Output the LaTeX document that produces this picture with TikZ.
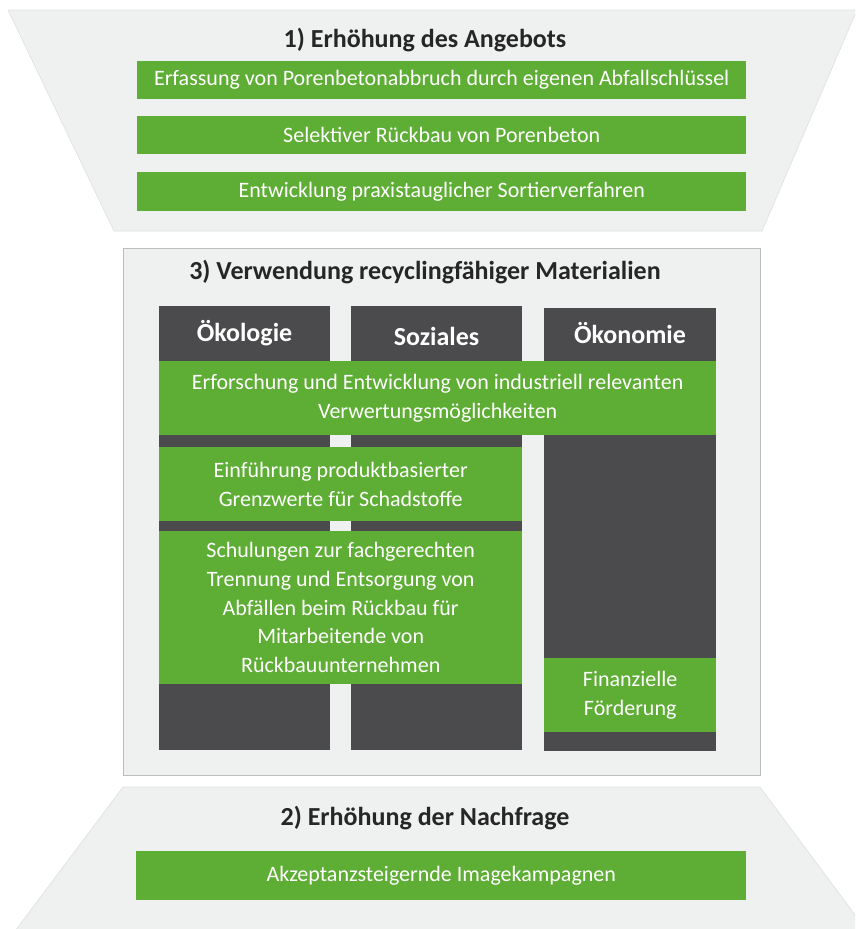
\documentclass[tikz,border=0pt]{standalone}
\usepackage{fontspec}
\setmainfont{Carlito}
\definecolor{mygreen}{HTML}{5EAD34}
\definecolor{mydark}{HTML}{4B4B4D}
\definecolor{mylight}{HTML}{EFF0F0}
\definecolor{myframe}{HTML}{BDBDBD}
\definecolor{mytitle}{HTML}{262626}
\tikzset{
  greenbox/.style={fill=mygreen, text=white, inner sep=0pt, align=center, anchor=north west,
    font=\fontsize{22}{28.7}\selectfont},
  darkcol/.style={fill=mydark, inner sep=0pt, anchor=north west},
  colhead/.style={text=white, font=\fontsize{26}{30}\selectfont\bfseries, inner sep=0pt},
  titletext/.style={text=mytitle, font=\fontsize{26}{30}\selectfont\bfseries, inner sep=0pt},
  trap/.style={fill=mylight, draw=mylight!85!gray, line width=0.6pt}
}
\begin{document}
\begin{tikzpicture}[x=1pt,y=-1pt]
\useasboundingbox (0,0) rectangle (855,929);
\clip (0,0) rectangle (855,929);
% top funnel
\path[trap] (8,10) -- (857,10) -- (762,231) -- (114,231) -- cycle;
\node[titletext] (t1) at (425,40) {1) Erhöhung des Angebots};
\node[greenbox, minimum width=609pt, minimum height=38pt] (a1) at (137,61) {Erfassung von Porenbetonabbruch durch eigenen Abfallschlüssel};
\node[greenbox, minimum width=609pt, minimum height=38pt] (a2) at (137,116) {Selektiver Rückbau von Porenbeton};
\node[greenbox, minimum width=609pt, minimum height=39pt] (a3) at (137,172) {Entwicklung praxistauglicher Sortierverfahren};
% middle box
\path[fill=mylight, draw=myframe, line width=1pt] (123,248) rectangle (760,775);
\node[titletext] (t3) at (425,272) {3) Verwendung recyclingfähiger Materialien};
\node[darkcol, minimum width=171pt, minimum height=444pt] (c1) at (159,306) {};
\node[darkcol, minimum width=171pt, minimum height=444pt] (c2) at (351,306) {};
\node[darkcol, minimum width=172pt, minimum height=443pt] (c3) at (544,308) {};
\node[colhead] (h1) at (244.5,333) {Ökologie};
\node[colhead] (h2) at (436.5,336) {Soziales};
\node[colhead] (h3) at (630,333) {Ökonomie};
\node[greenbox, minimum width=557pt, minimum height=74pt] (g1) at (159,361) {Erforschung und Entwicklung von industriell relevanten\\Verwertungsmöglichkeiten};
\node[greenbox, minimum width=363pt, minimum height=74pt] (g2) at (159,447) {Einführung produktbasierter\\Grenzwerte für Schadstoffe};
\node[greenbox, minimum width=363pt, minimum height=153pt] (g3) at (159,531) {Schulungen zur fachgerechten\\Trennung und Entsorgung von\\Abfällen beim Rückbau für\\Mitarbeitende von\\Rückbauunternehmen};
\node[greenbox, minimum width=172pt, minimum height=74pt] (g4) at (544,658) {Finanzielle\\Förderung};
% bottom funnel
\path[trap] (123,787) -- (760,787) -- (870,935) -- (12,935) -- cycle;
\node[titletext] (t2) at (425,818) {2) Erhöhung der Nachfrage};
\node[greenbox, minimum width=610pt, minimum height=49pt] (b1) at (136,851) {Akzeptanzsteigernde Imagekampagnen};
\end{tikzpicture}
\end{document}
